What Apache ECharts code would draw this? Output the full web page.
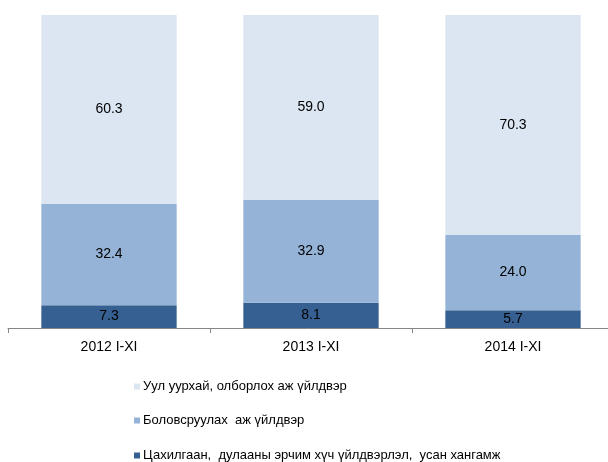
<!DOCTYPE html>
<html>
<head>
<meta charset="utf-8">
<script src="https://cdn.jsdelivr.net/npm/echarts@6/dist/echarts.min.js"></script>
<style>
  html, body { margin: 0; padding: 0; background: #fff; }
  #chart { width: 608px; height: 462px; }
</style>
</head>
<body>
<div id="chart"></div>
<script>
// categories and shares (%)
const categories = ['2012 I-XI', '2013 I-XI', '2014 I-XI']
const seriesNames = [
  'Уул уурхай, олборлох аж үйлдвэр',
  'Боловсруулах  аж үйлдвэр',
  'Цахилгаан,  дулааны эрчим хүч үйлдвэрлэл,  усан хангамж'
]
const mining = [60.3, 59.0, 70.3]
const manufacturing = [32.4, 32.9, 24.0]
const energy = [7.3, 8.1, 5.7]
const colors = ['#DCE6F2', '#95B3D7', '#366092']

const font = '"Liberation Sans", Arial, sans-serif'

const chart = echarts.init(document.getElementById('chart'))

const mkSeries = (name, data, color) => ({
  name,
  type: 'bar',
  stack: 'total',
  data,
  barWidth: '67%',
  itemStyle: { color },
  label: {
    show: true,
    position: 'inside',
    color: '#000',
    fontFamily: font,
    fontSize: 14,
    formatter: (p) => p.value.toFixed(1)
  }
})

// one legend per row so they sit at fixed heights
const legendTops = [380, 414, 449]
const legends = seriesNames.map((name, i) => ({
  orient: 'vertical',
  left: 134,
  top: legendTops[i],
  padding: 0,
  icon: 'rect',
  itemWidth: 6,
  itemHeight: 6,
  itemGap: 0,
  textStyle: { fontFamily: font, fontSize: 13, color: '#000', padding: [0, 0, 0, -2] },
  data: [name]
}))

chart.setOption({
  animation: false,
  grid: { left: 8, width: 606, top: 15, height: 313, outerBoundsMode: 'none' },
  legend: legends,
  xAxis: {
    type: 'category',
    data: categories,
    axisLine: { lineStyle: { color: '#868686', width: 1 } },
    axisTick: { show: true, length: 5, lineStyle: { color: '#868686' } },
    axisLabel: { color: '#000', fontFamily: font, fontSize: 14, margin: 12 }
  },
  yAxis: {
    type: 'value',
    min: 0,
    max: 100,
    show: false,
    splitLine: { show: false }
  },
  series: [
    mkSeries(seriesNames[2], energy, colors[2]),
    mkSeries(seriesNames[1], manufacturing, colors[1]),
    mkSeries(seriesNames[0], mining, colors[0])
  ]
})
</script>
</body>
</html>
